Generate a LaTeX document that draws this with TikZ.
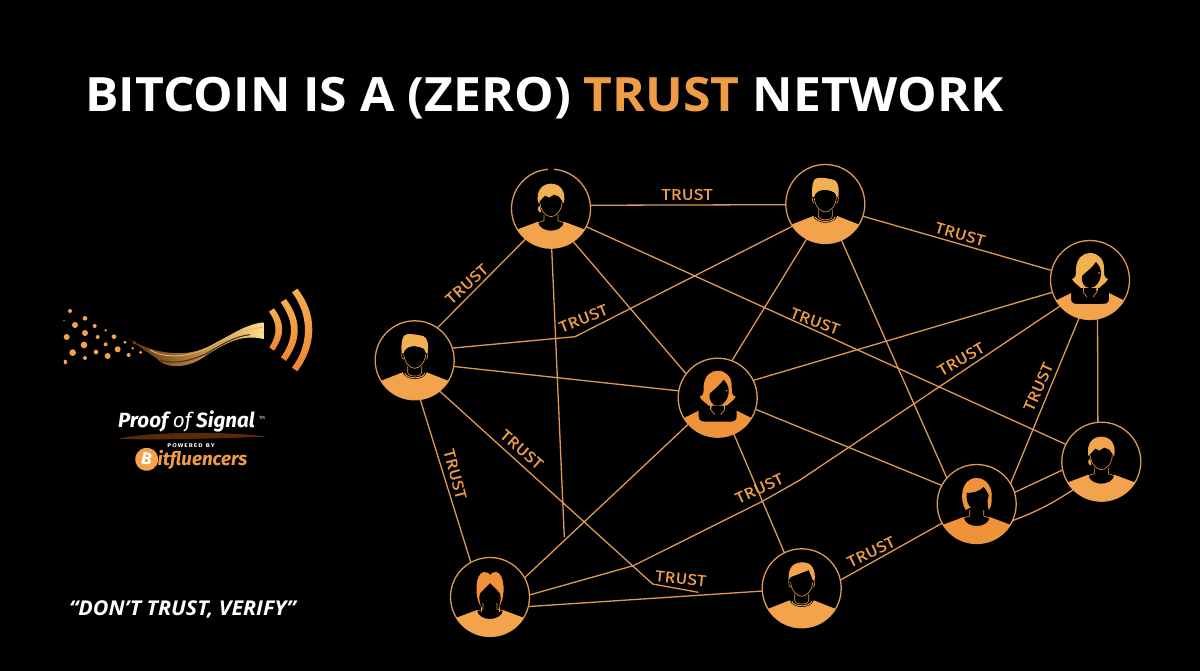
\documentclass[tikz,border=0pt]{standalone}
\usepackage{fontspec}
\setmainfont{Open Sans}
\newfontfamily\fira{Fira Sans}
\newfontfamily\trustf[LetterSpace=2.5,FakeBold=0.5]{Fira Sans}
\usetikzlibrary{calc}
\definecolor{lineor}{HTML}{DE9A52}
\definecolor{fillor}{HTML}{F2A34C}
\definecolor{titleor}{HTML}{EE9C45}
\definecolor{hairA}{HTML}{F3B052}
\definecolor{hairB}{HTML}{EF9238}
\definecolor{swL}{HTML}{5A2A08}
\definecolor{swM}{HTML}{E07A20}
\definecolor{swR}{HTML}{FFE08A}
\definecolor{gold}{HTML}{C98A3A}
\tikzset{
  x=1pt,y=-1pt,
  person/.style={circle,draw=lineor,line width=1.3pt,minimum size=79pt,inner sep=0pt,outer sep=0pt},
  link/.style={draw=lineor,line width=1.3pt},
  trustlabel/.style={text=titleor,font=\trustf\fontsize{15.5}{16}\selectfont,inner sep=0pt},
  thin line/.style={draw=lineor,line width=.6pt},
}
\newcommand\trust{\scalebox{1.13}[1]{TRUST}}
% body variants
\newcommand\bodyDeep[1]{%
  \begin{scope}\clip (0,0) circle (39.4);
  \fill[#1] (-45,25) -- (-13,13) .. controls (-12,25) and (12,25) .. (13,13) -- (45,25) -- (45,45) -- (-45,45) -- cycle;
  \end{scope}
  \draw[thin line] (-7,6) -- (-7,12) -- (-13,14) (7,6) -- (7,12) -- (13,14);}
\newcommand\bodyCollar[1]{%
  \begin{scope}\clip (0,0) circle (39.4);
  \fill[#1] (-45,25) -- (-12,12) .. controls (-10,21) and (10,21) .. (12,12) -- (45,25) -- (45,45) -- (-45,45) -- cycle;
  \end{scope}
  \draw[thin line] (-7,6) -- (-7,12) .. controls (-7,17) and (7,17) .. (7,12) -- (7,6);
  \draw[#1,line width=.9pt] (-10,13) .. controls (-8,19) and (8,19) .. (10,13);}
\newcommand\bodyBlouse[1]{%
  \begin{scope}\clip (0,0) circle (39.4);
  \fill[#1] (-45,26) -- (-19,13) -- (-19,19) .. controls (-19,24) and (-15,24) .. (-10,24) -- (10,24) .. controls (15,24) and (19,24) .. (19,19) -- (19,13) -- (45,26) -- (45,45) -- (-45,45) -- cycle;
  \end{scope}
  \draw[thin line] (-6,7) -- (-7,12) -- (-3,17) (6,7) -- (7,12) -- (3,17);}
% heads
\newcommand\jaw{(-11,-6) .. controls (-10.5,2) and (-5,8) .. (0,8) .. controls (5,8) and (10.5,2) .. (11,-6)}
\newcommand\headA[1]{%
  \fill[#1] (-13,-6) .. controls (-15,-18) and (-9,-25) .. (0,-25) .. controls (9,-25) and (15,-18) .. (13,-6) -- cycle;
  \fill[#1] (-11,-3) .. controls (-14,-2) and (-14,3) .. (-10,4) -- cycle;
  \fill[black] (-11.5,-7) -- (-6,-13) -- (-2,-11) -- (3,-14) -- (8,-12) -- (11.5,-7) -- (11,-6) .. controls (10.5,2) and (5,8) .. (0,8) .. controls (-5,8) and (-10.5,2) .. (-11,-6) -- cycle;
  \draw[thin line] \jaw;}
\newcommand\headB[1]{%
  \fill[#1] (-13,-7) .. controls (-14,-18) and (-12,-26) .. (-8,-26) .. controls (-4,-27) and (6,-25) .. (9,-24) .. controls (13,-22) and (14,-16) .. (13,-7) -- (11,-7) .. controls (10,-11) and (8,-13) .. (5,-13) -- (0,-14) .. controls (-5,-14) and (-10,-12) .. (-11,-7) -- cycle;
  \fill[black] (-11,-7) .. controls (-10,-12) and (-5,-14) .. (0,-14) -- (5,-13) .. controls (8,-13) and (10,-11) .. (11,-7) .. controls (10.5,2) and (5,8) .. (0,8) .. controls (-5,8) and (-10.5,2) .. (-11,-7) -- cycle;
  \draw[thin line] (-13,-7) .. controls (-13,-2) and (-12,0) .. (-11,-1) (13,-7) .. controls (13,-2) and (12,0) .. (11,-1);
  \draw[thin line] \jaw;}
\newcommand\headH[1]{%
  \fill[#1] (-13,-8) .. controls (-14,-20) and (-9,-26) .. (1,-26) .. controls (10,-26) and (14,-19) .. (13,-8) -- (11,-8) -- (7,-18) -- (-11,-11) -- cycle;
  \fill[black] (-11,-11) -- (7,-18) -- (11,-8) .. controls (10.5,2) and (5,8) .. (0,8) .. controls (-5,8) and (-10.5,2) .. (-11,-6) -- cycle;
  \draw[thin line] (-13,-8) .. controls (-13,-2) and (-12,0) .. (-11,-1) (13,-8) .. controls (13,-2) and (12,0) .. (11,-1);
  \draw[thin line] \jaw;}
\newcommand\headBob[1]{%
  \fill[#1] (-11,6) .. controls (-17,-2) and (-17,-26) .. (0,-26) .. controls (10,-26) and (16,-16) .. (15,-6) .. controls (15,0) and (14,4) .. (12,6) .. controls (11,2) and (11,0) .. (11,-5) -- cycle;
  \fill[black] (-10,-11) .. controls (-3,-11) and (3,-13) .. (7,-17) .. controls (9,-14) and (11,-12) .. (12,-9) .. controls (11,0) and (5,6) .. (0,6) .. controls (-6,6) and (-11,0) .. (-10,-11) -- cycle;}
\newcommand\headFlip[1]{%
  \fill[#1] (-18,-1) .. controls (-14,-2) and (-14,-5) .. (-14,-12) .. controls (-13,-22) and (-7,-27) .. (0,-27) .. controls (8,-27) and (14,-21) .. (14,-12) .. controls (14,-5) and (14,-2) .. (18,-1) .. controls (16,3) and (13,4) .. (9,8) -- (-9,8) .. controls (-13,4) and (-16,3) .. (-18,-1) -- cycle;
  \fill[black] (-8,-4) .. controls (-4,-8) and (2,-12) .. (6,-18) .. controls (9,-15) and (11,-11) .. (11,-7) .. controls (11,1) and (6,8) .. (0,8) .. controls (-6,8) and (-9,2) .. (-8,-4) -- cycle;
  \fill[#1] (9,-7) circle (.9);
  \draw[thin line] (-7,6) -- (-7,11) (7,6) -- (7,11);}
\newcommand\headLong[1]{%
  \fill[#1] (-9,10) .. controls (-16,0) and (-15,-24) .. (-6,-25) .. controls (-3,-25) and (-1,-24) .. (0,-22) .. controls (1,-24) and (3,-25) .. (6,-25) .. controls (15,-24) and (16,0) .. (9,10) .. controls (11,4) and (12,-4) .. (8,-6) .. controls (5,-9) and (2,-12) .. (0,-14) .. controls (-2,-12) and (-5,-9) .. (-8,-6) .. controls (-12,-4) and (-11,4) .. (-9,10) -- cycle;
  \draw[thin line] (-9,10) -- (-9,15) (9,10) -- (9,15);}
\begin{document}
\begin{tikzpicture}
\useasboundingbox (0,0) rectangle (1200,671);
\fill[black] (0,0) rectangle (1200,671);
% title
\node[anchor=base west,inner sep=0pt,text=white,font=\bfseries\fontsize{47.3}{50}\selectfont] (title) at (85,112) {\scalebox{1.054}[1]{BITCOIN IS A (ZERO) \textcolor{titleor}{TRUST} NETWORK}};
\node[anchor=base west,inner sep=0pt,text=white,font=\bfseries\itshape\fontsize{20.4}{22}\selectfont] (motto) at (69,615) {\scalebox{1.05}[1]{“DON’T TRUST, VERIFY”}};
% persons
\node[person] (A) at (551,208.7) {};
\node[person] (B) at (825.3,204) {};
\node[person] (C) at (1090,280) {};
\node[person] (D) at (414.7,360.3) {};
\node[person] (E) at (717.7,397.7) {};
\node[person] (F) at (1101.3,461.7) {};
\node[person] (G) at (976.7,504) {};
\node[person] (H) at (801.7,588.3) {};
\node[person] (I) at (490,597) {};
\draw[black,line width=2pt] ($(A.center)+(-3,-39.5)$) -- ($(A.center)+(3,-39.5)$);
% free ends
\coordinate (J) at (564.3,537.3);
\coordinate (K) at (652.7,584);
\coordinate (L) at (698.3,592.3);
\coordinate (M) at (633.3,565.7);
\coordinate (M2) at (762,501.5);
\coordinate (N) at (800,480);
\coordinate (P) at (575,336.7);
% connectors
\draw[link] (A.5) -- (B.181);
\draw[link] (B.-18) -- (C.166);
\draw[link] (A.230) -- (D.55);
\draw[link] (D.18) -- (P) -- (B.214);
\draw[link] (D.-9.5) -- (E.170);
\draw[link] (A.-56) -- (E.143);
\draw[link] (A.-27) -- (F.154.6);
\draw[link] (A.-89) -- (J);
\draw[link] (I.29.4) -- (E.222.4);
\draw[link] (D.-82.4) -- (I.119.5);
\draw[link] (D.-51.7) -- (K) -- (L);
\draw[link] (I.-14.3) -- (H.184);
\draw[link] (I.3.8) -- (M) -- (M2) -- (N) -- (C.221.8);
\draw[link] (E.26.6) -- (C.198.3);
\draw[link] (E.-17.5) -- (G.152.4);
\draw[link] (E.-66.4) -- (H.116.7);
\draw[link] (E.69.6) -- (B.242.3);
\draw[link] (B.-66) -- (G.139.4);
\draw[link] (G.31.3) -- (C.254.6);
\draw[link] (F.95) -- (C.-79);
\draw[link] (G.17.4) -- (F.192.8);
\draw[link] (G.-25) to[bend right=6] (F.225.4);
\draw[link] (G.209.7) -- (H.12.7);
% labels
\node[trustlabel] (t1) at (687,194.5) {\trust};
\node[trustlabel,rotate=-16] (t2) at (960,234) {\trust};
\node[trustlabel,rotate=42] (t3) at (466.7,284) {\trust};
\node[trustlabel,rotate=22] (t4) at (583.3,318.3) {\trust};
\node[trustlabel,rotate=-20] (t5) at (815,321) {\trust};
\node[trustlabel,rotate=30] (t6) at (961,359) {\trust};
\node[trustlabel,rotate=66] (t7) at (1038.3,386.7) {\trust};
\node[trustlabel,rotate=-75] (t8) at (455,474) {\trust};
\node[trustlabel,rotate=-41] (t9) at (521.7,449.3) {\trust};
\node[trustlabel,rotate=-6] (t10) at (680.7,578.3) {\trust};
\node[trustlabel,rotate=25] (t11) at (759.3,488.3) {\trust};
\node[trustlabel,rotate=26] (t12) at (871,551.7) {\trust};
% icons
\begin{scope}[shift={(A.center)}]\bodyDeep{fillor}\headA{hairA}\end{scope}
\begin{scope}[shift={(B.center)}]\bodyCollar{fillor}\headB{hairA}\end{scope}
\begin{scope}[shift={(C.center)}]\bodyBlouse{fillor}\headFlip{hairA}\end{scope}
\begin{scope}[shift={(D.center)}]\bodyCollar{fillor}\headB{hairA}\end{scope}
\begin{scope}[shift={(E.center)}]\bodyBlouse{hairB}\headFlip{hairB}\end{scope}
\begin{scope}[shift={(F.center)}]\bodyDeep{fillor}\headA{fillor}\end{scope}
\begin{scope}[shift={(G.center)}]\bodyDeep{hairB}\headBob{hairB}\end{scope}
\begin{scope}[shift={(H.center)}]\bodyCollar{fillor}\headH{fillor}\end{scope}
\begin{scope}[shift={(I.center)}]\bodyDeep{fillor}\headLong{hairB}\end{scope}
% logo
\begin{scope}[shift={(50,270)},x=0.3333pt,y=-0.3333pt]
\foreach \px/\py/\pr in {60/123/6,42/152/2,75/165/9,105/145/7,134/168/6,167/181/4,105/189/9,50/201/9,143/201/6,192/200/7,167/223/6,225/217/5,253/218/4,102/225/10,203/238/9,248/235/4,68/248/10,138/246/7,236/255/6,272/247/5,105/264/6,173/258/9,298/245/2}
  \fill[fillor] (\px,\py) circle ({\pr*1pt/3});
\begin{scope}\clip (42,260) rectangle (60,290); \fill[fillor] (45,276) circle (2.3pt);\end{scope}
\shade[left color=swL,middle color=swM,right color=swR] (232,205) .. controls (300,245) and (380,262) .. (450,240) .. controls (520,215) and (570,165) .. (640,157) .. controls (642,170) and (642,190) .. (640,207) .. controls (570,190) and (520,225) .. (470,255) .. controls (420,295) and (350,300) .. (320,265) .. controls (290,245) and (260,225) .. (232,205) -- cycle;
\draw[hairA,line width=.9pt] (300,240) .. controls (350,268) and (420,262) .. (480,230) .. controls (530,200) and (580,178) .. (638,172);
\draw[swL,line width=1.1pt] (330,270) .. controls (370,285) and (430,272) .. (480,245) .. controls (520,220) and (560,198) .. (600,194);
\shade[top color=hairA,bottom color=hairB!90!red] (657,125) -- (672,115) .. controls (705,160) and (705,195) .. (672,242) -- (658,232) .. controls (683,195) and (683,160) .. (657,125) -- cycle;
\shade[top color=hairA,bottom color=hairB!90!red] (692,97) -- (708,87) .. controls (755,150) and (755,210) .. (708,273) -- (693,262) .. controls (733,205) and (733,155) .. (692,97) -- cycle;
\shade[top color=hairA,bottom color=hairB!90!red] (726,67) -- (742,56) .. controls (802,130) and (802,225) .. (742,304) -- (726,293) .. controls (778,225) and (778,135) .. (726,67) -- cycle;
\shade[left color=swL,middle color=gold,right color=swL] (205,506) .. controls (300,484) and (550,484) .. (650,500) .. controls (550,504) and (300,512) .. (205,506) -- cycle;
\end{scope}
\node[anchor=base west,inner sep=0pt,text=white,font=\fira\bfseries\itshape\fontsize{20.6}{22}\selectfont] (pos) at (118,427.7) {Proof {\mdseries of} Signal};
\node[anchor=base west,inner sep=0pt,text=white,font=\fira\fontsize{4.5}{6}\selectfont] (tm) at (259,419) {TM};
\node[inner sep=0pt,text=white,font=\fira\bfseries\fontsize{5.4}{6}\selectfont] (pow) at (191,445.7) {\scalebox{1.2}[1]{P\,O\,W\,E\,R\,E\,D\ \ B\,Y}};
\node[circle,fill=fillor,minimum size=23pt,inner sep=0pt,text=white,font=\fira\bfseries\fontsize{17}{17}\selectfont,rotate=-12] (coin) at (146.7,459.3) {B};
\node[anchor=base west,inner sep=0pt,text=titleor,font=\fira\bfseries\itshape\fontsize{18.8}{20}\selectfont] (bit) at (157.5,465) {itfluencers};
\end{tikzpicture}
\end{document}
